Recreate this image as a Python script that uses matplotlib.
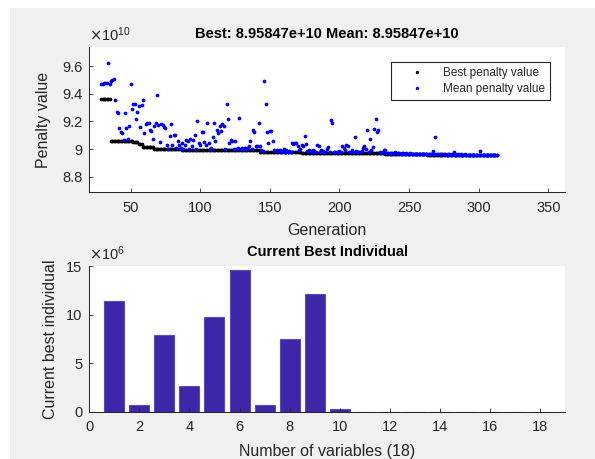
import matplotlib
matplotlib.use('Agg')
import matplotlib.pyplot as plt
import numpy as np
from matplotlib.patches import Rectangle
from matplotlib.ticker import FuncFormatter

plt.rcParams['font.family'] = ['Liberation Sans', 'DejaVu Sans']

# ---------------- data ----------------
first_generation = 29
# best penalty (x 1e10) as step levels and how many generations each lasts
best_levels = [9.365, 9.056, 9.049, 9.036, 9.012, 9.002, 8.996, 8.977, 8.972,
               8.968, 8.963, 8.960, 8.95847]
best_run_lengths = [7, 16, 4, 3, 8, 20, 56, 30, 30, 30, 30, 30, 21]

# mean penalty (x 1e10), one value per generation from 29 to 313
mean_penalty = [
    9.472, 9.474, 9.476, 9.478, 9.480, 9.625, 9.475, 9.490, 9.500, 9.505,
    9.355, 9.265, 9.260, 9.150, 9.120, 9.115, 9.065, 9.260, 9.150, 9.075,
    9.170, 9.475, 9.290, 9.330, 9.330, 9.215, 9.270, 9.310, 9.160, 9.320,
    9.355, 9.115, 9.180, 9.185, 9.190, 9.140, 9.130, 9.075, 9.170, 9.185,
    9.390, 9.175, 9.050, 9.180, 9.175, 9.160, 9.155, 9.030, 9.000, 9.095,
    9.180, 9.030, 9.105, 9.100, 9.005, 9.060, 9.030, 9.010, 9.040, 9.000,
    9.030, 9.065, 9.060, 9.000, 9.070, 9.025, 9.065, 9.105, 9.000, 9.205,
    9.040, 9.030, 9.120, 9.120, 9.050, 9.030, 9.185, 9.040, 9.000, 9.010,
    9.090, 9.190, 9.060, 9.140, 9.115, 9.170, 9.130, 9.180, 9.170, 9.000,
    9.325, 9.215, 9.040, 9.065, 9.060, 9.000, 9.060, 9.000, 9.005, 9.225,
    9.000, 9.010, 9.000, 9.005, 9.000, 9.010, 9.020, 9.055, 9.000, 9.135,
    9.125, 9.020, 9.020, 9.185, 9.020, 8.990, 8.985, 9.495, 9.325, 9.120,
    9.040, 9.130, 9.130, 9.055, 8.990, 8.985, 8.990, 8.985, 8.990, 8.980,
    8.985, 9.000, 8.980, 8.990, 8.980, 8.985, 8.980, 9.045, 9.035, 9.040,
    9.040, 9.025, 8.990, 9.000, 9.030, 9.025, 9.095, 9.035, 8.985, 8.990,
    8.985, 8.980, 8.990, 8.985, 8.975, 9.030, 9.025, 8.980, 8.990, 8.985,
    8.975, 8.980, 9.000, 9.015, 8.980, 9.210, 9.185, 8.975, 8.980, 8.975,
    8.980, 8.985, 8.975, 9.020, 9.010, 8.990, 9.030, 9.020, 8.975, 8.980,
    8.990, 8.975, 9.085, 8.985, 8.980, 8.975, 8.980, 8.985, 9.010, 9.025,
    9.000, 9.135, 8.980, 9.070, 8.990, 9.015, 9.145, 9.220, 9.120, 9.135,
    8.975, 8.970, 8.975, 8.990, 8.995, 8.972, 8.970, 8.969, 8.971, 8.968,
    8.970, 8.980, 8.969, 8.968, 8.970, 8.967, 8.969, 8.968, 8.966, 8.969,
    8.967, 8.966, 8.968, 8.966, 8.965, 8.967, 8.966, 8.965, 8.966, 8.965,
    8.964, 8.966, 8.965, 8.964, 8.963, 8.964, 8.962, 8.963, 8.983, 8.962,
    9.088, 8.962, 8.963, 8.961, 8.962, 8.961, 8.962, 8.961, 8.960, 8.962,
    8.961, 8.960, 8.961, 8.980, 8.961, 8.960, 8.961, 8.960, 8.961, 8.960,
    8.960, 8.961, 8.960, 8.960, 8.960, 8.959, 8.960, 8.959, 8.960, 8.959,
    8.959, 8.960, 8.983, 8.959, 8.959, 8.9588, 8.959, 8.9587, 8.9588, 8.9586,
    8.9586, 8.9585, 8.9585, 8.9585, 8.95847,
]

top_yticks = [8.8, 9.0, 9.2, 9.4, 9.6]
top_xticks = [50, 100, 150, 200, 250, 300, 350]

variable_index = list(range(1, 19))
best_individual = [11.43, 0.69, 7.94, 2.64, 9.76, 14.62, 0.69, 7.47, 12.12,
                   0.30, 0, 0, 0, 0, 0, 0, 0, 0]   # x 1e6
bottom_xticks = [0, 2, 4, 6, 8, 10, 12, 14, 16, 18]
bottom_yticks = [0, 5, 10, 15]

generations = np.arange(first_generation, first_generation + len(mean_penalty))
best_penalty = np.repeat(best_levels, best_run_lengths)

# ---------------- figure ----------------
W, H = 595, 459
fig = plt.figure(figsize=(W / 100, H / 100), dpi=100, facecolor='white')
fig.patches.append(Rectangle((10 / W, 0), 1 - 10 / W, 1 - 8 / H,
                             transform=fig.transFigure, facecolor='#f0f0f0',
                             edgecolor='none', zorder=-10))

axcol = '#262626'


def style(ax):
    for s in ('top', 'right'):
        ax.spines[s].set_visible(False)
    for s in ('left', 'bottom'):
        ax.spines[s].set_color(axcol)
        ax.spines[s].set_linewidth(0.75)
    ax.tick_params(direction='in', length=3, width=0.6, colors=axcol,
                   labelsize=10.5, labelcolor=axcol)
    ax.tick_params(axis='x', pad=6)
    ax.tick_params(axis='y', pad=5)
    ax.set_facecolor('white')


def fmt(v, p):
    return '%g' % round(v, 6)


# ---- top axes ----
ax1 = fig.add_axes([89.3 / W, 1 - 192.3 / H, 475.7 / W, 145.6 / H])
style(ax1)
ax1.plot(generations, best_penalty, linestyle='none', marker='o', ms=2.7,
         mew=0, color='black', label='Best penalty value')
ax1.plot(generations, mean_penalty, linestyle='none', marker='o', ms=2.7,
         mew=0, color='#0000ff', label='Mean penalty value')
ax1.set_xlim(20.4, 362)
ax1.set_ylim(8.686, 9.742)
ax1.set_xticks(top_xticks)
ax1.set_yticks(top_yticks)
ax1.yaxis.set_major_formatter(FuncFormatter(fmt))
ax1.set_xlabel('Generation', fontsize=11.5, color=axcol, labelpad=6)
ax1.set_ylabel('Penalty value', fontsize=11.5, color=axcol, labelpad=8)
ax1.set_title('Best: 8.95847e+10 Mean: 8.95847e+10', fontsize=10.5,
              fontweight='bold', pad=6, color='black')
ax1.text(0.0, 1.02, r'$\times\mathregular{10^{10}}$', transform=ax1.transAxes,
         ha='left', va='bottom', fontsize=10.5, color=axcol)
leg = ax1.legend(loc='upper right', bbox_to_anchor=(0.9685, 0.897),
                 borderaxespad=0, fontsize=8.5, frameon=True, fancybox=False,
                 edgecolor=axcol, framealpha=1, handlelength=3.4,
                 handletextpad=0.5, borderpad=0.45, labelspacing=0.35,
                 markerscale=0.9)
leg.get_frame().set_linewidth(0.8)
for t in leg.get_texts():
    t.set_color(axcol)

# ---- bottom axes ----
ax2 = fig.add_axes([89.3 / W, 1 - 411.7 / H, 475.7 / W, 145.7 / H])
style(ax2)
ax2.bar(variable_index, best_individual, width=0.8, color='#3d27a8',
        edgecolor='#5b4bbd', linewidth=0.8)
ax2.set_xlim(0, 19)
ax2.set_ylim(0, 15)
ax2.set_xticks(bottom_xticks)
ax2.set_yticks(bottom_yticks)
ax2.set_xlabel('Number of variables (18)', fontsize=11.5, color=axcol,
               labelpad=7)
ax2.set_ylabel('Current best individual', fontsize=11.5, color=axcol,
               labelpad=6)
ax2.set_title('Current Best Individual', fontsize=10.5, fontweight='bold',
              pad=7, color='black')
ax2.text(0.0, 1.02, r'$\times\mathregular{10^{6}}$', transform=ax2.transAxes,
         ha='left', va='bottom', fontsize=10.5, color=axcol)

fig.savefig('out.png', dpi=100, facecolor=fig.get_facecolor())
